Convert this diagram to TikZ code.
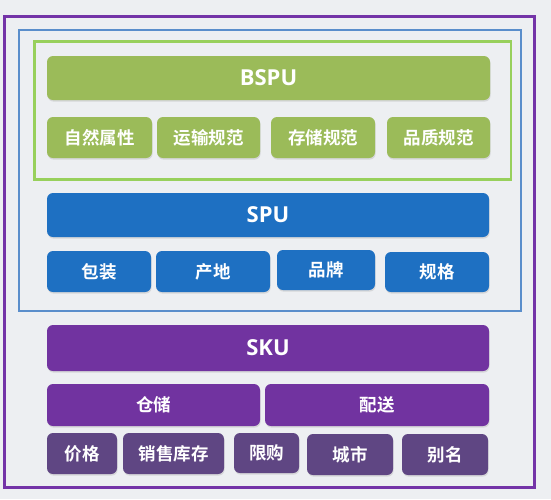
\documentclass[tikz,border=0pt]{standalone}
\usepackage{fontspec}
\setmainfont{Open Sans}
\newfontfamily\cjk{Noto Sans CJK SC}[BoldFont={* Bold}]
\usetikzlibrary{shadows}
\definecolor{bgc}{HTML}{EDEFF2}
\definecolor{frameP}{HTML}{7434A8}
\definecolor{frameB}{HTML}{5A8ECB}
\definecolor{frameG}{HTML}{98D05C}
\definecolor{boxG}{HTML}{9BBB59}
\definecolor{boxB}{HTML}{1E70C2}
\definecolor{boxP}{HTML}{7133A0}
\definecolor{boxD}{HTML}{5F4683}
\tikzset{
  cell/.style={rounded corners=6pt, text=white, inner sep=0pt,
    drop shadow={opacity=0.22, shadow xshift=0.6pt, shadow yshift=-1.6pt}},
  head/.style={cell, font=\fontsize{22}{25}\selectfont\bfseries},
  sub/.style={cell, font=\cjk\fontsize{17.5}{19}\selectfont\bfseries}
}
\newcommand{\cellat}[7]{%
  \pgfmathsetmacro{\cx}{(#2+#4)/2}\pgfmathsetmacro{\cy}{(#3+#5)/2}%
  \pgfmathsetmacro{\cw}{#4-#2}\pgfmathsetmacro{\ch}{#5-#3}%
  \node[#6, minimum width=\cw pt, minimum height=\ch pt] (#1) at (\cx,\cy) {#7};}
\begin{document}
\begin{tikzpicture}[x=1pt,y=-1pt]
\useasboundingbox (0,0) rectangle (551,499);
\fill[bgc] (0,0) rectangle (551,499);
% frames
\draw[frameP, line width=3pt] (4.5,16.5) rectangle (534.5,487);
\draw[frameB, line width=2pt] (19,29.5) rectangle (521,311);
\draw[frameG, line width=2.5pt] (34.5,41.5) rectangle (511,179.5);
% BSPU layer
\cellat{bspu}{47}{56}{490}{100}{head, fill=boxG}{BSPU}
\cellat{g1}{47}{117}{152}{158}{sub, fill=boxG}{自然属性}
\cellat{g2}{157}{117}{260}{158}{sub, fill=boxG}{运输规范}
\cellat{g3}{271}{117}{375}{158}{sub, fill=boxG}{存储规范}
\cellat{g4}{387}{117}{490}{158}{sub, fill=boxG}{品质规范}
% SPU layer
\cellat{spu}{47}{193}{489}{237}{head, fill=boxB}{SPU}
\cellat{b1}{47}{251}{151}{292}{sub, fill=boxB}{包装}
\cellat{b2}{156}{251}{270}{292}{sub, fill=boxB}{产地}
\cellat{b3}{277}{250}{375}{290}{sub, fill=boxB}{品牌}
\cellat{b4}{385}{252}{489}{292}{sub, fill=boxB}{规格}
% SKU layer
\cellat{sku}{47}{325}{489}{371}{head, fill=boxP}{SKU}
\cellat{p1}{47}{384}{260}{426}{sub, fill=boxP}{仓储}
\cellat{p2}{265}{384}{489}{426}{sub, fill=boxP}{配送}
\cellat{d1}{47}{433}{117}{474}{sub, fill=boxD}{价格}
\cellat{d2}{123}{433}{224}{474}{sub, fill=boxD}{销售库存}
\cellat{d3}{234}{433}{299}{473}{sub, fill=boxD}{限购}
\cellat{d4}{307}{434}{393}{475}{sub, fill=boxD}{城市}
\cellat{d5}{402}{434}{488}{475}{sub, fill=boxD}{别名}
\end{tikzpicture}
\end{document}
